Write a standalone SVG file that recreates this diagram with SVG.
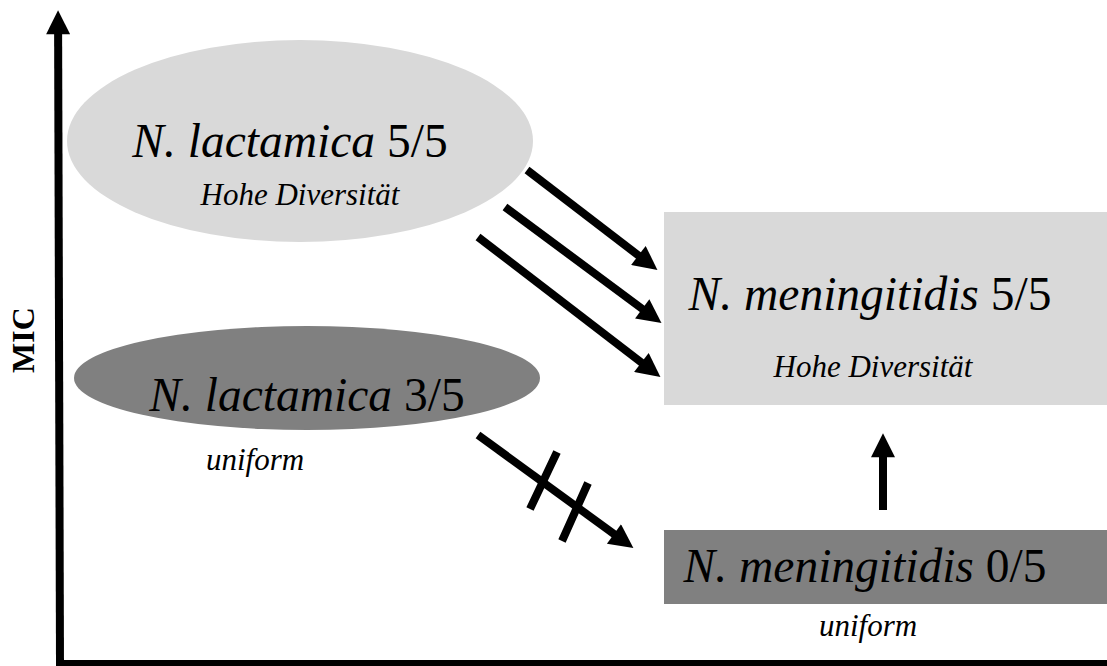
<svg xmlns="http://www.w3.org/2000/svg" width="1107" height="666" viewBox="0 0 1107 666">
<style>
text{font-family:'Liberation Serif','Times New Roman',serif;fill:#000;text-anchor:middle}
.big{font-size:47.5px}
.sm{font-size:31px;font-style:italic}
.light{fill:#d9d9d9}
.dark{fill:#808080}
.conn line{stroke:#000;stroke-width:8;fill:none;marker-end:url(#ah)}
.bar{stroke:#000;stroke-width:8}
</style>
<defs>
<marker id="ah" viewBox="0 0 10 10" refX="3" refY="5" markerWidth="3.5" markerHeight="3" orient="auto">
<path d="M0,0 L10,5 L0,10 z" fill="#000"/>
</marker>
</defs>
<rect width="1107" height="666" fill="#fff"/>
<g id="axes">
<rect x="56" y="660" width="1051" height="6" fill="#000"/>
<line x1="60" y1="664" x2="58.1" y2="27" stroke="#000" stroke-width="8" marker-end="url(#ah)"/>
<text font-family="Liberation Serif, serif" font-weight="bold" font-size="32" transform="translate(34,340) rotate(-90)">MIC</text>
</g>
<g id="lact55">
<ellipse class="light" cx="300" cy="141" rx="233" ry="101"/>
<text class="big" font-family="Liberation Serif, serif" x="290" y="157"><tspan font-style="italic">N. lactamica</tspan> 5/5</text>
<text class="sm" font-family="Liberation Serif, serif" x="300" y="205">Hohe Diversität</text>
</g>
<g id="lact35">
<ellipse class="dark" cx="307" cy="378" rx="233" ry="52"/>
<text class="big" font-family="Liberation Serif, serif" x="307" y="411"><tspan font-style="italic">N. lactamica</tspan> 3/5</text>
<text class="sm" font-family="Liberation Serif, serif" x="255" y="470">uniform</text>
</g>
<g id="men55">
<rect class="light" x="664" y="212" width="443" height="193"/>
<text class="big" font-family="Liberation Serif, serif" x="870" y="310"><tspan font-style="italic">N. meningitidis</tspan> 5/5</text>
<text class="sm" font-family="Liberation Serif, serif" x="873" y="377">Hohe Diversität</text>
</g>
<g id="men05">
<rect class="dark" x="664" y="530" width="443" height="74"/>
<text class="big" font-family="Liberation Serif, serif" x="865" y="582"><tspan font-style="italic">N. meningitidis</tspan> 0/5</text>
<text class="sm" font-family="Liberation Serif, serif" x="868" y="636">uniform</text>
</g>
<g id="connectors" class="conn">
<line x1="527" y1="170" x2="644.1" y2="259.8"/>
<line x1="505" y1="207" x2="648" y2="313.1"/>
<line x1="478" y1="237" x2="647.1" y2="366.8"/>
<line x1="478" y1="435" x2="619.8" y2="538.2"/>
<line x1="883" y1="510" x2="883" y2="450"/>
<path class="bar" d="M557,452 L530,509 M588,483 L562,541"/>
</g>
</svg>
